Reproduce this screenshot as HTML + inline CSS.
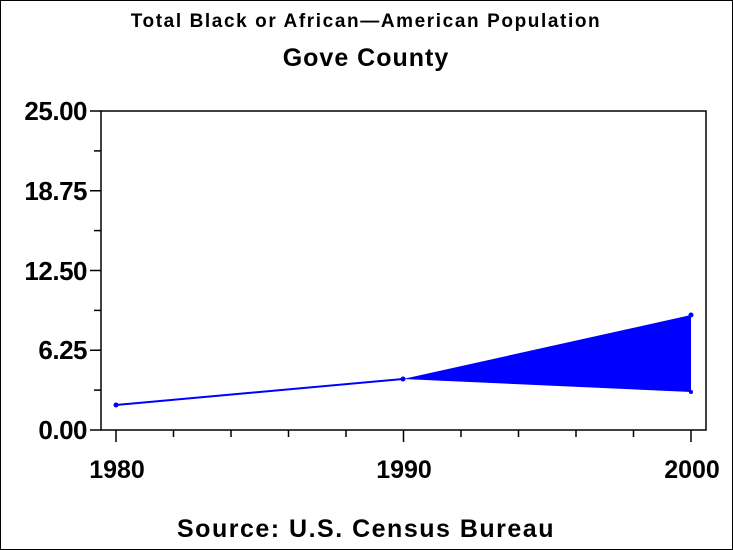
<!DOCTYPE html>
<html><head><style>body{margin:0;background:#fff}svg{display:block}text{font-family:"Liberation Sans",Arial,sans-serif;fill:#000;font-weight:bold}</style></head><body>
<svg width="733" height="550" viewBox="0 0 733 550">
<rect x="0.5" y="0.5" width="732" height="549" fill="#fff" stroke="#000"/>
<text x="366" y="27" font-size="19" text-anchor="middle" letter-spacing="1.6">Total Black or African—American Population</text>
<text x="366" y="66" font-size="25" text-anchor="middle" letter-spacing="1">Gove County</text>
<rect x="101" y="111" width="605" height="319" fill="none" stroke="#000" stroke-width="1.5"/>
<g stroke="#000" stroke-width="1.5">
<line x1="90" y1="111" x2="101" y2="111"/><line x1="90" y1="190.75" x2="101" y2="190.75"/><line x1="90" y1="270.5" x2="101" y2="270.5"/><line x1="90" y1="350.25" x2="101" y2="350.25"/><line x1="90" y1="430" x2="101" y2="430"/>
<line x1="94" y1="150.9" x2="101" y2="150.9"/><line x1="94" y1="230.6" x2="101" y2="230.6"/><line x1="94" y1="310.4" x2="101" y2="310.4"/><line x1="94" y1="390.1" x2="101" y2="390.1"/>
<line x1="116" y1="430" x2="116" y2="442"/><line x1="403.5" y1="430" x2="403.5" y2="442"/><line x1="691" y1="430" x2="691" y2="442"/>
<line x1="173.5" y1="430" x2="173.5" y2="437"/><line x1="231" y1="430" x2="231" y2="437"/><line x1="288.5" y1="430" x2="288.5" y2="437"/><line x1="346" y1="430" x2="346" y2="437"/>
<line x1="461" y1="430" x2="461" y2="437"/><line x1="518.5" y1="430" x2="518.5" y2="437"/><line x1="576" y1="430" x2="576" y2="437"/><line x1="633.5" y1="430" x2="633.5" y2="437"/>
</g>
<g font-size="26" text-anchor="end" letter-spacing="-0.5">
<text x="87" y="120">25.00</text><text x="87" y="200">18.75</text><text x="87" y="280">12.50</text><text x="87" y="359">6.25</text><text x="87" y="439">0.00</text>
</g>
<g font-size="25" text-anchor="middle">
<text x="117" y="478">1980</text><text x="404" y="478">1990</text><text x="692" y="478">2000</text>
</g>
<polygon points="403,379 691,315 691,392" fill="#0000ff"/>
<polyline points="116,405 403,379" fill="none" stroke="#0000ff" stroke-width="2"/>
<circle cx="116" cy="405" r="2.5" fill="#0000ff"/><circle cx="403" cy="379" r="2.5" fill="#0000ff"/><circle cx="691" cy="315" r="2.5" fill="#0000ff"/><circle cx="691" cy="392" r="2" fill="#0000ff"/>
<text x="366" y="537" font-size="25" text-anchor="middle" letter-spacing="1.5">Source: U.S. Census Bureau</text>
</svg>
</body></html>
